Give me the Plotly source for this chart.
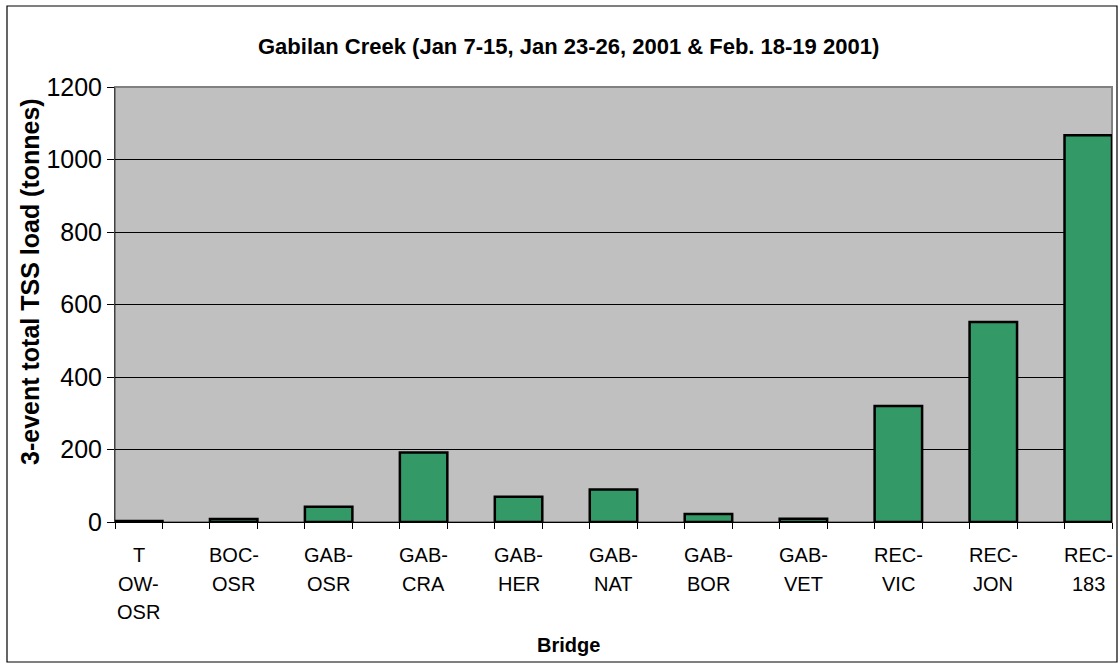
import plotly.graph_objects as go

# Bridge sites along Gabilan Creek / Reclamation Canal
bridges = ["T\nOW-\nOSR", "BOC-\nOSR", "GAB-\nOSR", "GAB-\nCRA", "GAB-\nHER", "GAB-\nNAT",
           "GAB-\nBOR", "GAB-\nVET", "REC-\nVIC", "REC-\nJON", "REC-\n183"]
# 3-event total TSS load (tonnes)
tss_load = [3, 8, 42, 192, 70, 90, 22, 9, 320, 552, 1067]
y_ticks = [0, 200, 400, 600, 800, 1000, 1200]

FONT = "Liberation Sans Narrow, Liberation Sans, Arial, sans-serif"
BOLD = "Liberation Sans, Arial, sans-serif"

W, H = 1119, 667
L, R, T, B = 115, 7, 87, 145
pw, ph = W - L - R, H - T - B

xs = list(range(len(bridges)))

fig = go.Figure()
fig.add_trace(go.Bar(
    x=xs, y=tss_load, width=0.5,
    marker=dict(color="#339966", line=dict(color="black", width=2.5)),
    hoverinfo="x+y",
))

# tick marks at both edges of every bar
edge_ticks = []
for i in xs:
    edge_ticks += [i - 0.25, i + 0.25]

fig.update_layout(
    width=W, height=H,
    margin=dict(l=L, r=R, t=T, b=B, pad=0),
    paper_bgcolor="white",
    plot_bgcolor="#C0C0C0",
    showlegend=False,
    xaxis=dict(
        range=[-0.25, len(bridges) - 0.75],
        tickvals=edge_ticks, ticktext=[""] * len(edge_ticks),
        ticks="outside", ticklen=6, tickcolor="black", tickwidth=1,
        showgrid=False, zeroline=False,
        showline=True, linecolor="black", linewidth=1,
    ),
    yaxis=dict(
        range=[0, 1200],
        tickvals=y_ticks,
        ticks="outside", ticklen=7, tickcolor="black", tickwidth=1,
        tickfont=dict(family=FONT, size=25, color="black"),
        showgrid=True, gridcolor="black", gridwidth=1,
        zeroline=False,
        showline=True, linecolor="#404040", linewidth=1,
    ),
)

# category labels, one annotation per text line
for i, lab in enumerate(bridges):
    for k, line in enumerate(lab.split("\n")):
        fig.add_annotation(
            x=i, y=0, xref="x", yref="paper",
            text=line, showarrow=False,
            xanchor="center", yanchor="middle",
            yshift=-(555 - 522) - k * 28.5,
            font=dict(family=FONT, size=20, color="black"),
        )

# plot-area frame (top/right in grey)
fig.add_shape(type="rect", xref="paper", yref="paper", x0=0, y0=0, x1=1, y1=1,
              line=dict(color="#808080", width=2), layer="below")
# outer chart border
fig.add_shape(type="rect", xref="paper", yref="paper",
              x0=(7 - L) / pw, x1=(1117 - L) / pw,
              y0=(H - B - 662) / ph, y1=(H - B - 6) / ph,
              line=dict(color="black", width=1.2))

fig.add_annotation(
    x=(568 - L) / pw, y=(H - B - 47) / ph, xref="paper", yref="paper",
    text="<b>Gabilan Creek (Jan 7-15, Jan 23-26, 2001 & Feb. 18-19 2001)</b>",
    showarrow=False, xanchor="center", yanchor="middle",
    font=dict(family=FONT, size=22, color="black"),
)
fig.add_annotation(
    x=(568 - L) / pw, y=(H - B - 645) / ph, xref="paper", yref="paper",
    text="<b>Bridge</b>", showarrow=False, xanchor="center", yanchor="middle",
    font=dict(family=FONT, size=20, color="black"),
)
fig.add_annotation(
    x=(30 - L) / pw, y=(H - B - 282) / ph, xref="paper", yref="paper",
    text="<b>3-event total TSS load (tonnes)</b>", textangle=-90,
    showarrow=False, xanchor="center", yanchor="middle",
    font=dict(family=BOLD, size=25, color="black"),
)

fig.write_html("out.html")
